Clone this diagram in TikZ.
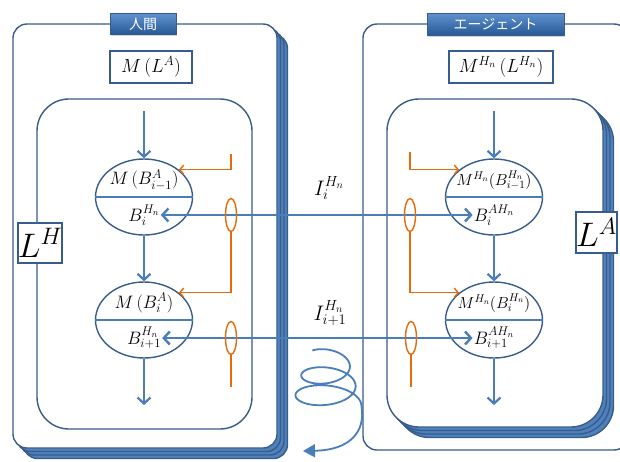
\RequirePackage{fix-cm}
\documentclass[tikz,border=0pt]{standalone}
\usepackage{fontspec}
\newfontfamily\jpfont{Noto Sans CJK JP}
\usetikzlibrary{arrows.meta,shapes.geometric,shadows}
\definecolor{FrameBlue}{RGB}{56,93,138}
\definecolor{FlowBlue}{RGB}{74,126,187}
\definecolor{StackBlue}{RGB}{79,129,189}
\definecolor{LoopOrange}{RGB}{228,108,10}
\definecolor{TabTop}{RGB}{96,146,206}
\definecolor{TabBottom}{RGB}{38,88,150}

\begin{document}
\begin{tikzpicture}[x=1pt, y=-1pt,
    outerframe/.style={draw=FrameBlue, line width=1.4pt, fill=white, rounded corners=14pt, inner sep=0pt},
    stack/.style={outerframe, fill=StackBlue},
    innerframe/.style={draw=FrameBlue, line width=1.4pt, fill=white, rounded corners=32pt, inner sep=0pt},
    tab/.style={draw=FrameBlue, line width=0.8pt, top color=TabTop, bottom color=TabBottom, text=white,
      font=\jpfont\fontsize{14}{16}\selectfont, inner sep=0pt,
      drop shadow={opacity=0.35, shadow xshift=1pt, shadow yshift=-1.5pt}},
    modelbox/.style={draw=FrameBlue, line width=1.4pt, fill=white, minimum height=32pt, inner sep=0pt,
      font=\fontsize{19}{22}\selectfont},
    levelbox/.style={draw=FrameBlue, line width=1.4pt, fill=white, inner sep=0pt, font=\fontsize{34}{36}\selectfont},
    belief/.style={ellipse, draw=FrameBlue, line width=1.4pt, fill=white, minimum width=97pt,
      minimum height=76pt, inner sep=0pt},
    eq/.style={inner sep=1pt, font=\fontsize{18}{20}\selectfont},
    flow/.style={draw=FlowBlue, line width=2.2pt, -{Straight Barb[length=6pt,width=13pt]}},
    info/.style={draw=FlowBlue, line width=2.4pt,
      {Straight Barb[length=6pt,width=13pt]}-{Straight Barb[length=6pt,width=13pt]}},
    ring/.style={ellipse, draw=LoopOrange, line width=1.4pt, minimum width=11pt, minimum height=33pt, inner sep=0pt},
    feed/.style={draw=LoopOrange, line width=1.4pt, -{Straight Barb[length=4pt,width=9pt]}},
  ]
  \clip (0,0) rectangle (620,461);

  % Human frame with its stacked layers
  \foreach \d in {10.5,7,3.5}
    \node[stack, minimum width=264pt, minimum height=424pt, xshift=\d pt, yshift=-\d pt] at (145,236) {};
  \node[outerframe, minimum width=264pt, minimum height=424pt] (hframe) at (145,236) {};
  % Agent frame
  \node[outerframe, minimum width=265pt, minimum height=426pt] (aframe) at (495.5,237) {};

  % Inner loops
  \node[innerframe, minimum width=215pt, minimum height=330pt] (hloop) at (144.5,264) {};
  \foreach \d in {10.5,7,3.5}
    \node[innerframe, fill=StackBlue, minimum width=216pt, minimum height=328pt, xshift=\d pt, yshift=-\d pt] at (495,263) {};
  \node[innerframe, minimum width=216pt, minimum height=328pt] (aloop) at (495,263) {};

  % Tabs and model boxes
  \node[tab, minimum width=66pt, minimum height=21pt] (htab) at (143,24) {人間};
  \node[tab, minimum width=137pt, minimum height=22pt] (atab) at (495.5,24) {エージェント};
  \node[modelbox, minimum width=82pt] (hmodel) at (151,67) {$M\,(L^{A})$};
  \node[modelbox, minimum width=104pt] (amodel) at (501,67) {$M^{H_n}\,(L^{H_n})$};

  % Level boxes
  \node[levelbox, minimum width=44pt, minimum height=40pt] (lh) at (40,243) {$L^{H}$};
  \node[levelbox, minimum width=41pt, minimum height=41pt] (la) at (596.5,232.5) {$L^{A}$};

  % Belief ellipses
  \node[belief] (he1) at (144,197) {};
  \node[belief] (he2) at (144,320) {};
  \node[belief] (ae1) at (494,197) {};
  \node[belief] (ae2) at (494,320) {};
  \foreach \e in {he1,he2,ae1,ae2}
    \draw[FlowBlue, line width=2.2pt] (\e.west) -- (\e.east);

  \node[eq, yshift=17pt] (hm1) at (he1) {$M\,(B_{i-1}^{A})$};
  \node[eq, yshift=-18pt] (hb1) at (he1) {$B_{i}^{H_n}$};
  \node[eq, yshift=17pt] (hm2) at (he2) {$M\,(B_{i}^{A})$};
  \node[eq, yshift=-18pt] (hb2) at (he2) {$B_{i+1}^{H_n}$};
  \node[eq, font=\fontsize{16}{18}\selectfont, yshift=17pt] (am1) at (ae1) {$M^{H_n}(B_{i-1}^{H_n})$};
  \node[eq, yshift=-18pt] (ab1) at (ae1) {$B_{i}^{AH_n}$};
  \node[eq, font=\fontsize{16}{18}\selectfont, yshift=17pt] (am2) at (ae2) {$M^{H_n}(B_{i}^{H_n})$};
  \node[eq, yshift=-18pt] (ab2) at (ae2) {$B_{i+1}^{AH_n}$};

  % Vertical flow
  \coordinate (htop) at (144,111);
  \coordinate (hend) at (144,405);
  \coordinate (atop) at (494,111);
  \coordinate (aend) at (494,405);
  \draw[flow] (htop) -- (he1);
  \draw[flow] (he1) -- (he2);
  \draw[flow] (he2) -- (hend);
  \draw[flow] (atop) -- (ae1);
  \draw[flow] (ae1) -- (ae2);
  \draw[flow] (ae2) -- (aend);

  % Exchanged information
  \draw[info] (hb1.east) -- (hb1.east -| ab1.west);
  \draw[info] (hb2.east) -- (hb2.east -| ab2.west);
  \node[font=\fontsize{21}{24}\selectfont] (ch1) at (329,188) {$I_{i}^{H_n}$};
  \node[font=\fontsize{21}{24}\selectfont] (ch2) at (330,313) {$I_{i+1}^{H_n}$};

  % Orange taps
  \node[ring] (hr1) at (hb1.east -| 231,0) {};
  \node[ring] (hr2) at (hb2.east -| 231,0) {};
  \node[ring] (ar1) at (hb1.east -| 410,0) {};
  \node[ring] (ar2) at (hb2.east -| 411,0) {};
  \coordinate (hs1) at (231,154);
  \coordinate (hs2) at (231,387);
  \coordinate (as1) at (410,152);
  \coordinate (as2) at (411,387);
  \draw[feed] (hs1) |- (he1.north east);
  \draw[feed] (hr1.south) |- (he2.north east);
  \draw[LoopOrange, line width=1.4pt] (hr2.south) -- (hs2);
  \draw[feed] (as1) |- (ae1.north west);
  \draw[feed] (ar1.south) |- (ae2.north west);
  \draw[LoopOrange, line width=1.4pt] (ar2.south) -- (as2);

  % Spiral
  \coordinate (swend) at (303,451);
  \draw[FlowBlue, line width=1.8pt, -{Triangle[length=12pt,width=13pt]}]
    plot[domain=45:900, samples=180, variable=\t]
      ({327-(20+0.016*\t)*cos(\t)}, {356+0.055*\t-(11+0.005*\t)*sin(\t)})
    .. controls (366,432) and (350,450) .. (swend);
\end{tikzpicture}
\end{document}
